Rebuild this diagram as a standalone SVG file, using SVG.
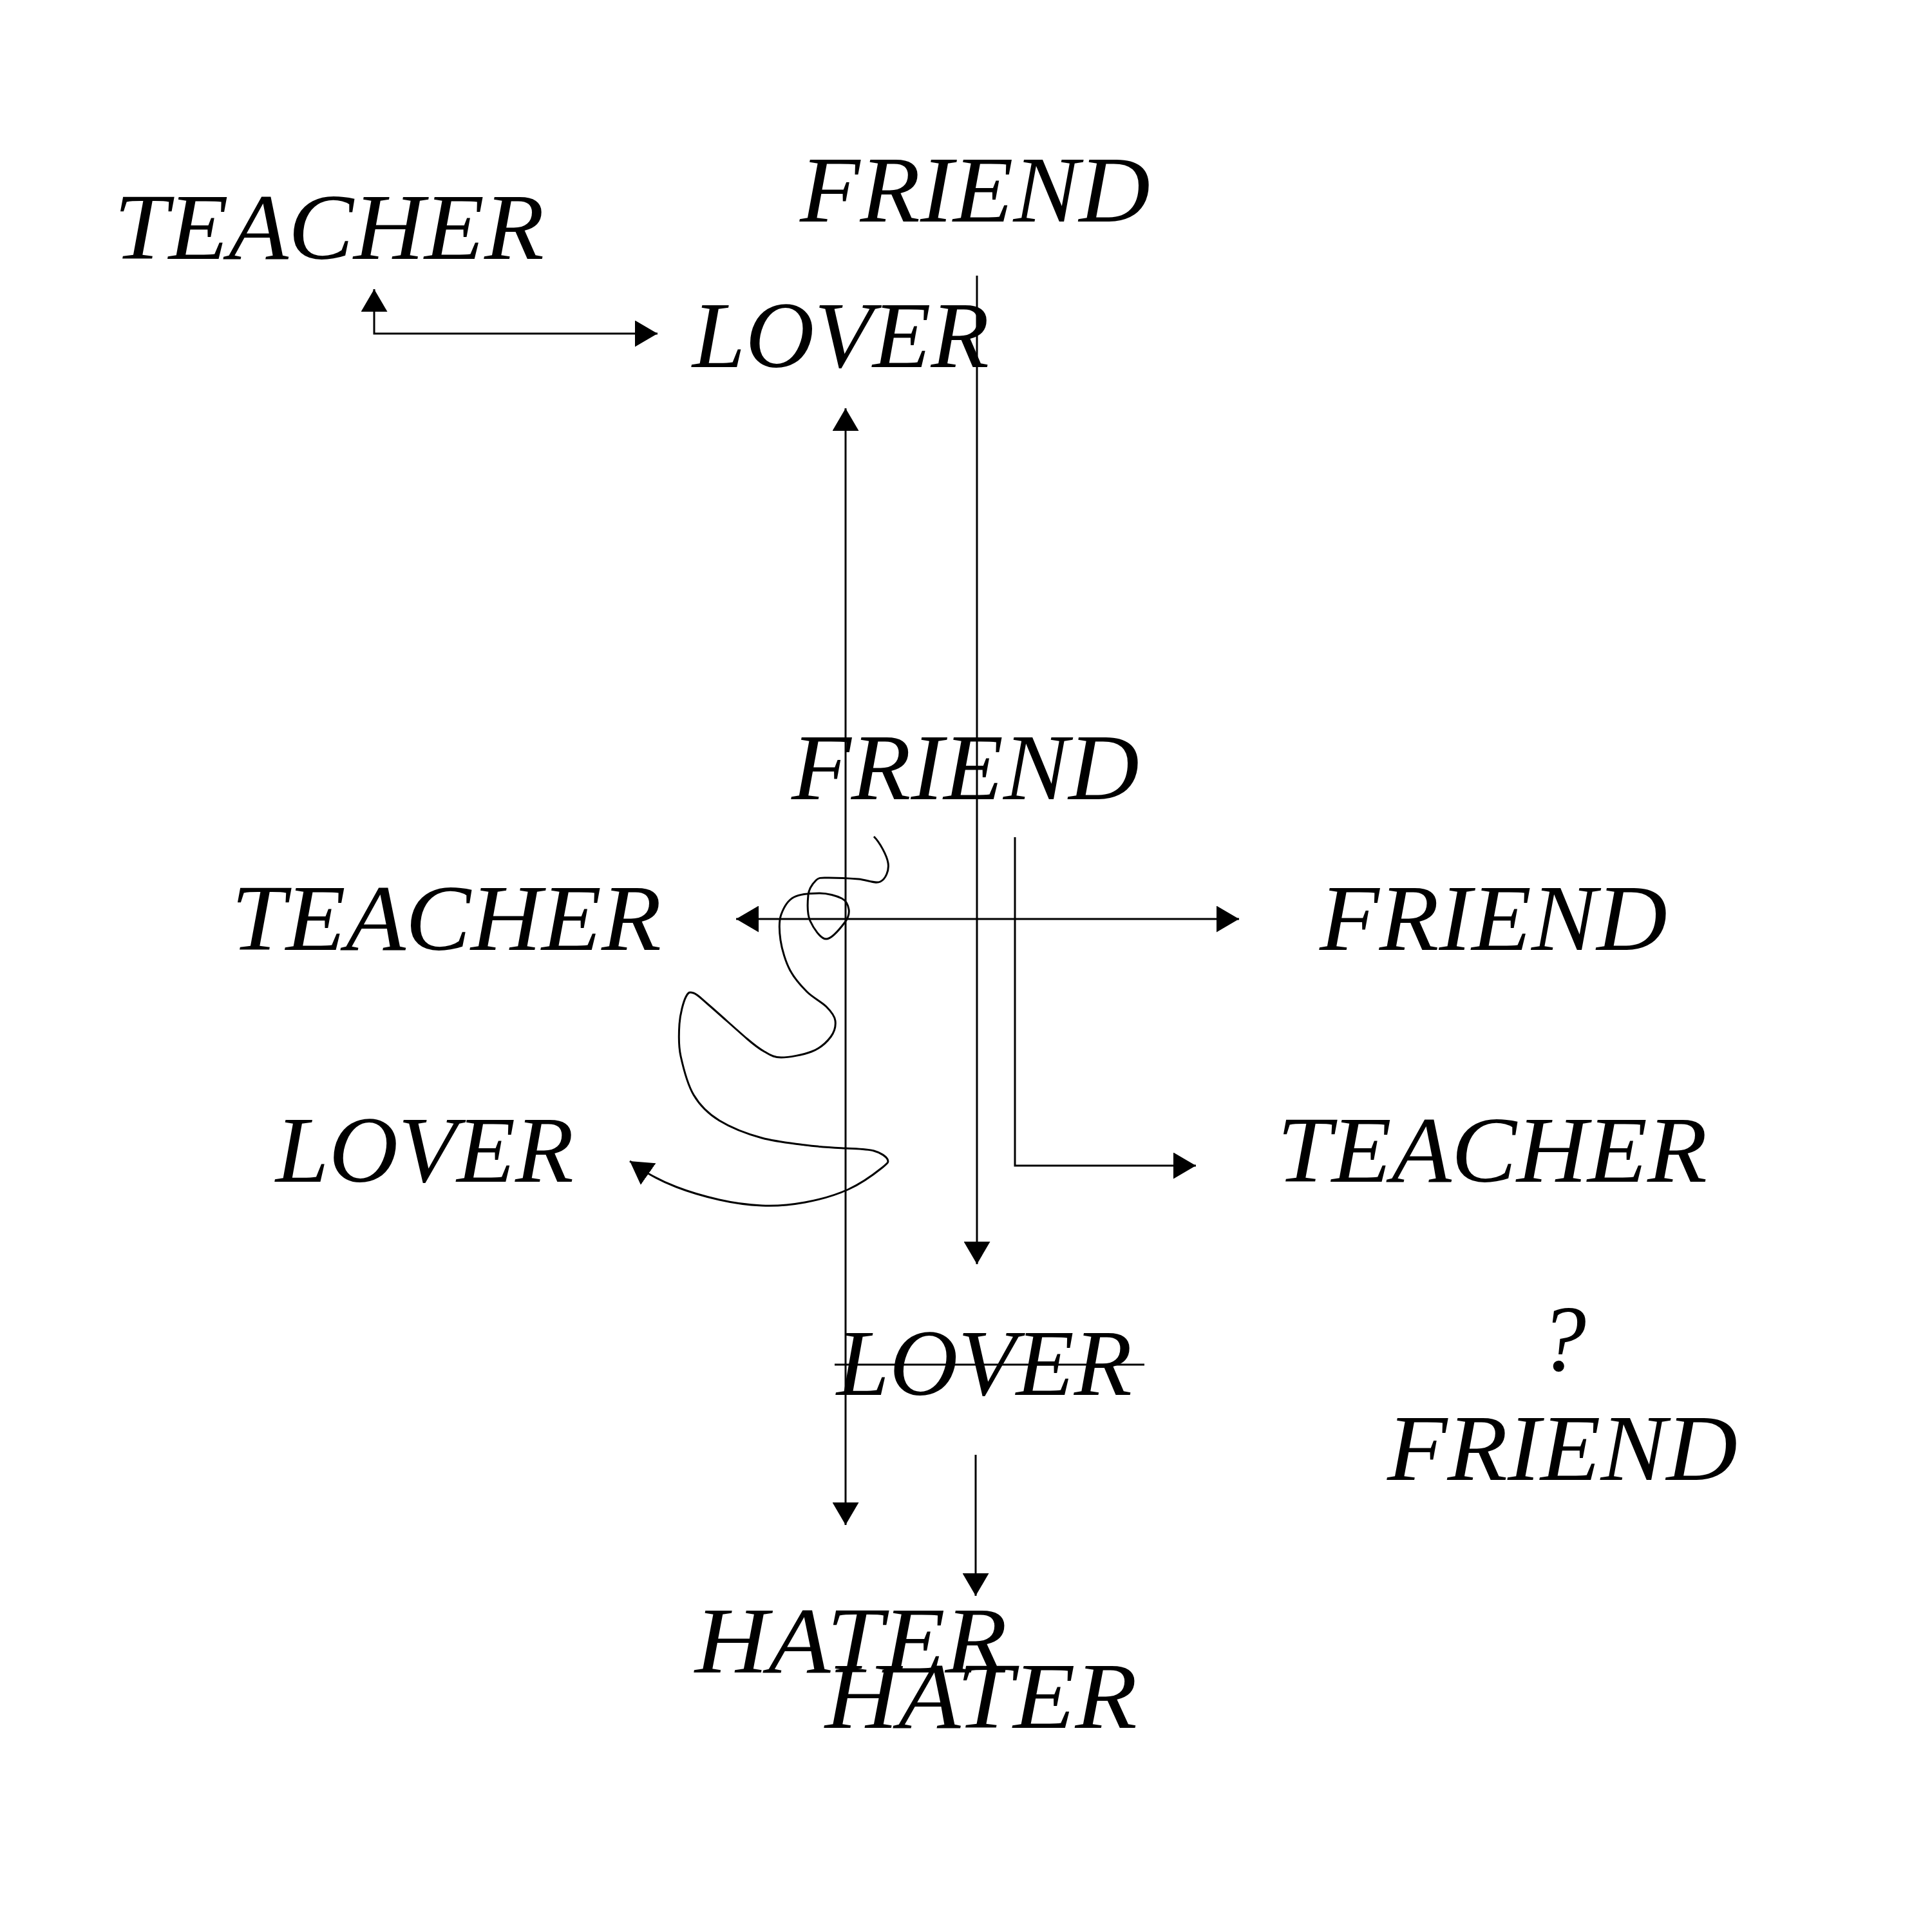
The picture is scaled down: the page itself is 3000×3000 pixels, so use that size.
<svg xmlns="http://www.w3.org/2000/svg" width="3000" height="3000" viewBox="0 0 3000 3000">
<style>
.t{font-family:"Liberation Serif","Times New Roman",serif;font-style:italic;font-size:146px;fill:#000}
.c{fill:none;stroke:#000;stroke-width:3}
.a{marker-end:url(#ah)}
.aa{marker-start:url(#ah);marker-end:url(#ah)}
</style>
<defs>
<marker id="ah" viewBox="0 0 35 41" refX="35" refY="20.5" markerWidth="35" markerHeight="41" markerUnits="userSpaceOnUse" orient="auto-start-reverse"><path d="M0,0 L35,20.5 L0,41 z" fill="#000"/></marker>
</defs>
<rect width="3000" height="3000" fill="#fff"/>
<g id="connectors">
<path class="c aa" d="M581,449 L581,518 L1021,518"/>
<path class="c a" d="M1517,428 L1517,1963"/>
<path class="c aa" d="M1313,634 L1313,2368"/>
<path class="c aa" d="M1143,1427 L1924,1427"/>
<path class="c a" d="M1576,1300 L1576,1810 L1857,1810"/>
<path class="c a" d="M1515,2259 L1515,2478"/>
<path class="c a" stroke-width="4" d="M1357,1299 C1366,1308 1377,1328 1379,1340 S1375,1365 1367,1369 S1346,1366 1333,1365 S1298,1363 1287,1363 S1272,1362 1267,1367 S1256,1380 1255,1390 S1253,1419 1258,1430 S1274,1458 1283,1458 S1306,1440 1312,1432 S1319,1418 1318,1412 S1315,1399 1307,1395 S1285,1387 1273,1387 S1243,1388 1233,1393 S1217,1409 1213,1420 S1210,1446 1212,1460 S1220,1494 1227,1507 S1244,1531 1253,1540 S1276,1556 1283,1563 S1296,1577 1297,1585 S1296,1602 1290,1610 S1273,1628 1260,1633 S1225,1642 1213,1642 S1196,1638 1187,1633 S1174,1625 1160,1613 S1114,1572 1100,1560 S1083,1544 1077,1542 S1069,1540 1065,1548 S1056,1575 1055,1590 S1053,1622 1057,1640 S1067,1683 1077,1700 S1099,1729 1117,1740 S1161,1761 1183,1767 S1228,1775 1250,1778 S1294,1782 1312,1783 S1346,1784 1357,1787 S1376,1796 1378,1800 S1380,1805 1370,1813 S1337,1838 1317,1847 S1272,1863 1250,1867 S1205,1873 1183,1872 S1139,1868 1117,1863 S1068,1850 1050,1843 S1020,1830 1008,1823 S988,1810 978,1803"/>
</g>
<g id="teacher-top"><text class="t" x="177" y="402" textLength="668" lengthAdjust="spacingAndGlyphs">TEACHER</text></g>
<g id="friend-top"><text class="t" x="1242" y="344" textLength="544" lengthAdjust="spacingAndGlyphs">FRIEND</text></g>
<g id="lover-top"><text class="t" x="1075" y="570" textLength="461" lengthAdjust="spacingAndGlyphs">LOVER</text></g>
<g id="friend-mid"><text class="t" x="1229" y="1241" textLength="540" lengthAdjust="spacingAndGlyphs">FRIEND</text></g>
<g id="teacher-left"><text class="t" x="359" y="1475" textLength="668" lengthAdjust="spacingAndGlyphs">TEACHER</text></g>
<g id="friend-right"><text class="t" x="2049" y="1475" textLength="540" lengthAdjust="spacingAndGlyphs">FRIEND</text></g>
<g id="teacher-right"><text class="t" x="1983" y="1835" textLength="668" lengthAdjust="spacingAndGlyphs">TEACHER</text></g>
<g id="lover-left"><text class="t" x="428" y="1835" textLength="463" lengthAdjust="spacingAndGlyphs">LOVER</text></g>
<g id="lover-struck"><text class="t" x="1299" y="2166" textLength="459" lengthAdjust="spacingAndGlyphs">LOVER</text><path class="c" d="M1296,2119 L1777,2119"/></g>
<g id="question"><text class="t" x="2390" y="2128">?</text></g>
<g id="friend-bottom"><text class="t" x="2154" y="2298" textLength="544" lengthAdjust="spacingAndGlyphs">FRIEND</text></g>
<g id="hater-1"><text class="t" x="1079" y="2597" textLength="485" lengthAdjust="spacingAndGlyphs">HATER</text></g>
<g id="hater-2"><text class="t" x="1281" y="2683" textLength="485" lengthAdjust="spacingAndGlyphs">HATER</text></g>
</svg>
